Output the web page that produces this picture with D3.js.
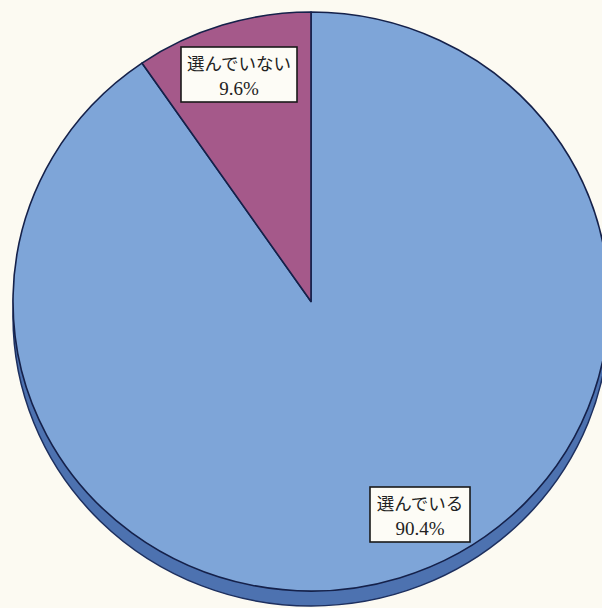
<!DOCTYPE html>
<html><head><meta charset="utf-8">
<script src="https://cdn.jsdelivr.net/npm/d3@7"></script>
<style>html,body{margin:0;padding:0;background:#fcfaf2;}svg{display:block;}</style>
</head><body>
<script>
const categories = ["選んでいる", "選んでいない"];
const values = [90.4, 9.6];
const labels = ["90.4%", "9.6%"];

const W = 602, H = 608;
const cx = 311, cy = 301.5, rx = 298, ry = 289.5, depth = 15;
const colors = ["#7ea5d8", "#a5598a"];
const labelPos = [{x: 420, y: 514.5, w: 100, h: 55},
                  {x: 239, y: 74.5, w: 116, h: 55}];

const svg = d3.select("body").append("svg").attr("width", W).attr("height", H);

const pie = d3.pie().sort(null).startAngle(0).value(d => d);
const arcs = pie(values);
const arc = d3.arc().innerRadius(0).outerRadius(rx);
const sy = ry / rx;

// 3D side band
svg.append("ellipse").attr("cx", cx).attr("cy", cy + depth).attr("rx", rx).attr("ry", ry)
  .attr("fill", "#4d72b0").attr("stroke", "#1d2f5e").attr("stroke-width", 1.5);

const g = svg.append("g").attr("transform", `translate(${cx},${cy}) scale(1,${sy})`);
g.selectAll("path").data(arcs).join("path")
  .attr("d", arc)
  .attr("fill", (d, i) => colors[i])
  .attr("stroke", "#15214a").attr("stroke-width", 1.6).attr("stroke-linejoin", "round")
  .attr("vector-effect", "non-scaling-stroke");

labelPos.forEach((p, i) => {
  const lg = svg.append("g").attr("transform", `translate(${p.x},${p.y})`);
  lg.append("rect").attr("x", -p.w / 2).attr("y", -p.h / 2).attr("width", p.w).attr("height", p.h)
    .attr("fill", "#fdfcf6").attr("stroke", "#1a1a1a").attr("stroke-width", 1.6);
  lg.append("text").attr("y", -5).attr("text-anchor", "middle")
    .attr("font-family", "'Noto Sans CJK JP', sans-serif").attr("font-size", 17.5).attr("fill", "#222")
    .text(categories[i]);
  lg.append("text").attr("y", 20).attr("text-anchor", "middle")
    .attr("font-family", "'Liberation Serif', 'DejaVu Serif', serif").attr("font-size", 19).attr("fill", "#222")
    .text(labels[i]);
});
</script>
</body></html>
